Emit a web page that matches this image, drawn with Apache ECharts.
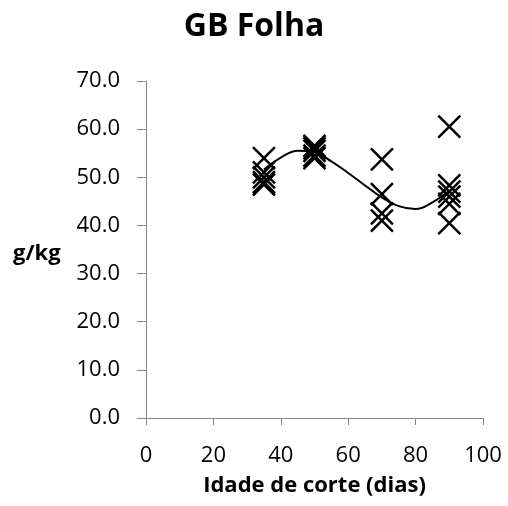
<!DOCTYPE html>
<html><head><meta charset="utf-8">
<script src="https://cdn.jsdelivr.net/npm/echarts@6/dist/echarts.min.js"></script>
<style>html,body{margin:0;padding:0;background:#fff}#c{width:508px;height:506px}</style>
</head><body><div id="c"></div>
<script>
// Scatter observations: cut age (days) and GB (g/kg)
const ages = [35, 35, 35, 35, 35, 50, 50, 50, 50, 50, 70, 70, 70, 70, 90, 90, 90, 90, 90, 90];
const gbValues = [54.0, 51.0, 50.0, 49.0, 48.5, 56.5, 56.0, 55.5, 54.5, 54.0, 53.7, 46.5, 42.5, 41.0, 60.5, 48.3, 47.0, 46.0, 44.5, 40.5];
// Trend line
const trendAges = [35, 40, 45, 50, 55, 60, 65, 70, 75, 80, 85, 90];
const trendValues = [51.6, 54.1, 55.5, 55.2, 53.3, 50.9, 48.3, 45.8, 44.0, 43.4, 44.8, 47.2];
const titleText = 'GB Folha';
const xName = 'Idade de corte (dias)';
const yName = 'g/kg';

const scatterData = ages.map((a, i) => [a, gbValues[i]]);
const trendData = trendAges.map((a, i) => [a, trendValues[i]]);

const chart = echarts.init(document.getElementById('c'), null, {renderer: 'canvas'});
const axisGray = '#868686';
chart.setOption({
  animation: false,
  backgroundColor: '#fff',
  title: {
    text: titleText, left: 'center', top: 6,
    textStyle: {fontFamily: 'Open Sans', fontWeight: 'bold', fontSize: 32, color: '#000'}
  },
  graphic: [{
    type: 'text', left: 13, top: 243,
    style: {text: yName, font: 'bold 22px "Open Sans"', fill: '#000'}
  }],
  grid: {left: 146, right: 25, top: 81, bottom: 88, containLabel: false},
  xAxis: {
    type: 'value', min: 0, max: 100, interval: 20,
    name: xName, nameLocation: 'middle', nameGap: 57,
    nameTextStyle: {fontFamily: 'Open Sans', fontWeight: 'bold', fontSize: 22, color: '#000'},
    axisLine: {show: true, lineStyle: {color: axisGray, width: 1}},
    axisTick: {show: true, length: 7, lineStyle: {color: axisGray}},
    axisLabel: {margin: 27, fontFamily: 'Open Sans', fontSize: 22, color: '#000'},
    splitLine: {show: false}
  },
  yAxis: {
    type: 'value', min: 0, max: 70, interval: 10,
    axisLine: {show: true, lineStyle: {color: axisGray, width: 1}},
    axisTick: {show: true, length: 9, lineStyle: {color: axisGray}},
    axisLabel: {margin: 26, fontFamily: 'Open Sans', fontSize: 22, color: '#000',
      formatter: v => v.toFixed(1)},
    splitLine: {show: false}
  },
  series: [
    {
      type: 'line', data: trendData, smooth: 0.4, showSymbol: false, symbol: 'none',
      lineStyle: {color: '#000', width: 2}, z: 2
    },
    {
      type: 'scatter', data: scatterData,
      symbol: 'path://M0,0L20,20M20,0L0,20', symbolSize: 22,
      itemStyle: {color: 'rgba(0,0,0,0)', borderColor: '#000', borderWidth: 2.5, opacity: 1},
      z: 3
    }
  ]
});
</script></body></html>
